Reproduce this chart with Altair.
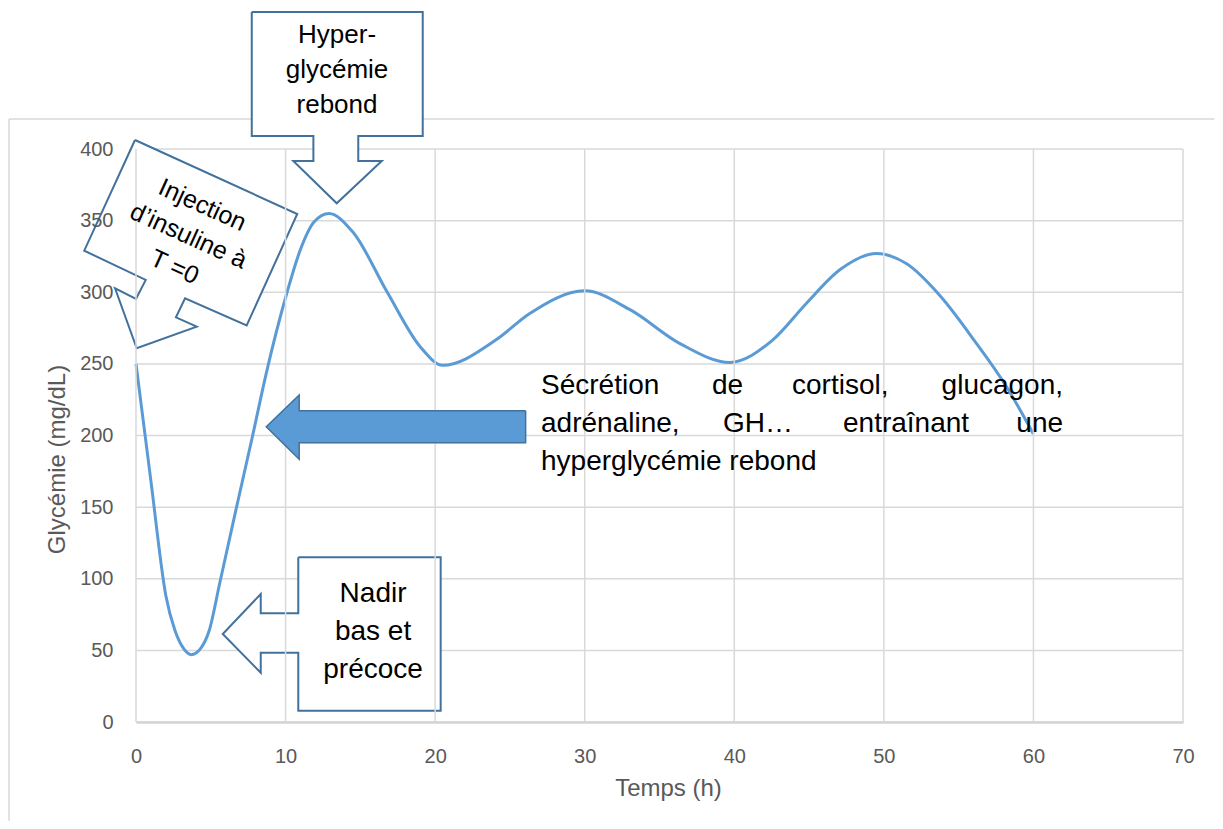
import altair as alt
import pandas as pd

# ---------------- data ----------------
time_h = [0, 1.0, 2.0, 2.6, 3.2, 3.7, 4.3, 4.9, 5.6, 6.7, 7.8, 8.7, 10.1, 11.0,
          11.9, 12.9, 14.5, 16.8, 19.0, 20.5, 24.1, 26.3, 30.0, 33.0, 36.4,
          39.7, 42.6, 44.8, 47.1, 49.5, 51.5, 53.8, 56.0, 58.2, 60]
glycemie = [250, 168, 88, 64, 51, 47, 51, 64, 97, 149, 200, 243, 300, 330,
            349, 355, 342, 300, 262, 249, 267, 285, 301, 288, 264,
            251, 267, 292, 316, 327, 320, 297, 267, 234, 201]

x_ticks = [0, 10, 20, 30, 40, 50, 60, 70]
y_ticks = [0, 50, 100, 150, 200, 250, 300, 350, 400]

# annotation shapes (data units)
hyper_x = [7.74, 19.17, 19.17, 14.86, 14.86, 16.43, 13.42, 10.52, 11.86, 11.86, 7.74, 7.74]
hyper_y = [495.6, 495.6, 409.1, 409.1, 391.6, 391.6, 362.1, 391.6, 391.6, 409.1, 409.1, 495.6]
hyper_lines = ["Hyper-", "glycémie", "rebond"]

nadir_x = [10.85, 20.37, 20.37, 10.85, 10.85, 8.34, 8.34, 5.80, 8.34, 8.34, 10.85, 10.85]
nadir_y = [114.97, 114.97, 7.89, 7.89, 48.38, 48.38, 34.42, 61.43, 89.35, 75.88, 75.88, 114.97]
nadir_lines = ["Nadir", "bas et", "précoce"]

inj_x = [-0.067, 10.78, 7.40, 3.28, 2.67, 4.06, 0.047, -1.40, 0.0, 0.65, -3.46, -0.067]
inj_y = [406.3, 354.6, 276.9, 295.7, 282.5, 276.0, 260.9, 302.8, 295.3, 308.6, 329.0, 406.3]
inj_lines = ["Injection", "d\u2019insuline à", "T =0"]

arrow_x = [26.05, 10.91, 10.91, 8.71, 10.91, 10.91, 26.05, 26.05]
arrow_y = [217.3, 217.3, 228.3, 206.1, 183.4, 195.0, 195.0, 217.3]

para_words = ["Sécrétion", "de", "cortisol,", "glucagon,",
              "adrénaline,", "GH\u2026", "entraînant", "une",
              "hyperglycémie rebond"]

# ---------------- encodings ----------------
FONT = "Liberation Sans"
GRAY = "#595959"
OUTLINE = "#41719c"
GRID = "#d9d9d9"

x_scale = alt.Scale(domain=[0, 70], nice=False, zero=False)
y_scale = alt.Scale(domain=[0, 400], nice=False, zero=False)

x_axis = alt.Axis(values=x_ticks, title="Temps (h)", grid=False,
                  domainColor="#bfbfbf", domainWidth=2, ticks=False,
                  labelFont=FONT, labelFontSize=20, labelColor=GRAY, labelPadding=24,
                  labelFlush=False, labelOverlap=False,
                  titleFont=FONT, titleFontSize=24, titleColor=GRAY, titleFontWeight="normal",
                  titleX=532, titleY=66, titleAlign="center", titleBaseline="middle")
y_axis = alt.Axis(values=y_ticks, title="Glycémie (mg/dL)", grid=False, zindex=1,
                  domain=False, ticks=False,
                  labelFont=FONT, labelFontSize=20, labelColor=GRAY, labelPadding=23,
                  labelFlush=False, labelOverlap=False,
                  titleFont=FONT, titleFontSize=24, titleColor=GRAY, titleFontWeight="normal",
                  titleX=-79, titleY=310, titleAngle=270, titleAlign="center",
                  titleBaseline="middle")


def X(field="x"):
    return alt.X(f"{field}:Q", scale=x_scale, axis=x_axis)


def Y(field="y"):
    return alt.Y(f"{field}:Q", scale=y_scale, axis=y_axis)


def poly(xs, ys, fill, stroke, width=2):
    df = pd.DataFrame({"x": xs, "y": ys, "o": list(range(len(xs)))})
    return alt.Chart(df).mark_line(fill=fill, stroke=stroke, strokeWidth=width,
                                   strokeJoin="miter", interpolate="linear").encode(
        x=X(), y=Y(), order="o:Q")


def text_layer(df, **kw):
    return alt.Chart(df).mark_text(font=FONT, color="black", **kw).encode(
        x=X(), y=Y(), text="t:N")


# gridlines
h_grid = alt.Chart(pd.DataFrame({"y": y_ticks, "x": [0] * len(y_ticks),
                                 "x2": [70] * len(y_ticks)})).mark_rule(
    color=GRID, strokeWidth=1.5).encode(x=X(), x2="x2:Q", y=Y())
v_grid = alt.Chart(pd.DataFrame({"x": x_ticks, "y": [0] * len(x_ticks),
                                 "y2": [400] * len(x_ticks)})).mark_rule(
    color=GRID, strokeWidth=1.5).encode(x=X(), y=Y(), y2="y2:Q")

# outer frame of the chart area
frame_top = alt.Chart(pd.DataFrame({"x": [-8.49], "x2": [72.1], "y": [420.9]})).mark_rule(
    color=GRID, strokeWidth=1.5).encode(x=X(), x2="x2:Q", y=Y())
frame_left = alt.Chart(pd.DataFrame({"x": [-8.49], "y": [420.9], "y2": [-69.0]})).mark_rule(
    color=GRID, strokeWidth=1.5).encode(x=X(), y=Y(), y2="y2:Q")

curve = alt.Chart(pd.DataFrame({"x": time_h, "y": glycemie})).mark_line(
    color="#5b9bd5", strokeWidth=3, interpolate="monotone").encode(x=X(), y=Y())

hyper_shape = poly(hyper_x, hyper_y, "white", OUTLINE)
nadir_shape = poly(nadir_x, nadir_y, "white", OUTLINE)
inj_shape = poly(inj_x, inj_y, "white", OUTLINE)
arrow_shape = poly(arrow_x, arrow_y, "#5b9bd5", OUTLINE, 1.5)

hyper_text = text_layer(pd.DataFrame({"x": [13.44] * 3, "y": [474.0, 449.6, 425.1],
                                      "t": hyper_lines}),
                        fontSize=26, align="center", baseline="alphabetic")
nadir_text = text_layer(pd.DataFrame({"x": [15.85] * 3, "y": [83.8, 57.2, 30.7],
                                      "t": nadir_lines}),
                        fontSize=28, align="center", baseline="alphabetic")
inj_text = text_layer(pd.DataFrame({"x": [4.44, 3.51, 2.58], "y": [360.9, 339.3, 317.6],
                                    "t": inj_lines}),
                      fontSize=25, align="center", baseline="middle", angle=24.4)

para_left = text_layer(pd.DataFrame({
    "x": [27.08, 38.51, 43.86, 27.08, 39.24, 47.27, 27.08],
    "y": [229.0, 229.0, 229.0, 202.4, 202.4, 202.4, 175.9],
    "t": [para_words[i] for i in [0, 1, 2, 4, 5, 6, 8]]}),
    fontSize=28, align="left", baseline="alphabetic")
para_right = text_layer(pd.DataFrame({
    "x": [61.98, 61.98], "y": [229.0, 202.4],
    "t": [para_words[3], para_words[7]]}),
    fontSize=28, align="right", baseline="alphabetic")

chart = alt.layer(
    h_grid, frame_top, frame_left, curve, hyper_shape, nadir_shape, inj_shape,
    v_grid, arrow_shape, hyper_text, nadir_text, inj_text, para_left, para_right
).properties(
    width=1047, height=573,
    autosize=alt.AutoSizeParams(type="none"),
    padding={"left": 128, "top": 141, "right": 32, "bottom": 99},
    background="white",
).configure_view(strokeWidth=0)

chart.save("out.html", embed_options={"renderer": "svg", "actions": False})
